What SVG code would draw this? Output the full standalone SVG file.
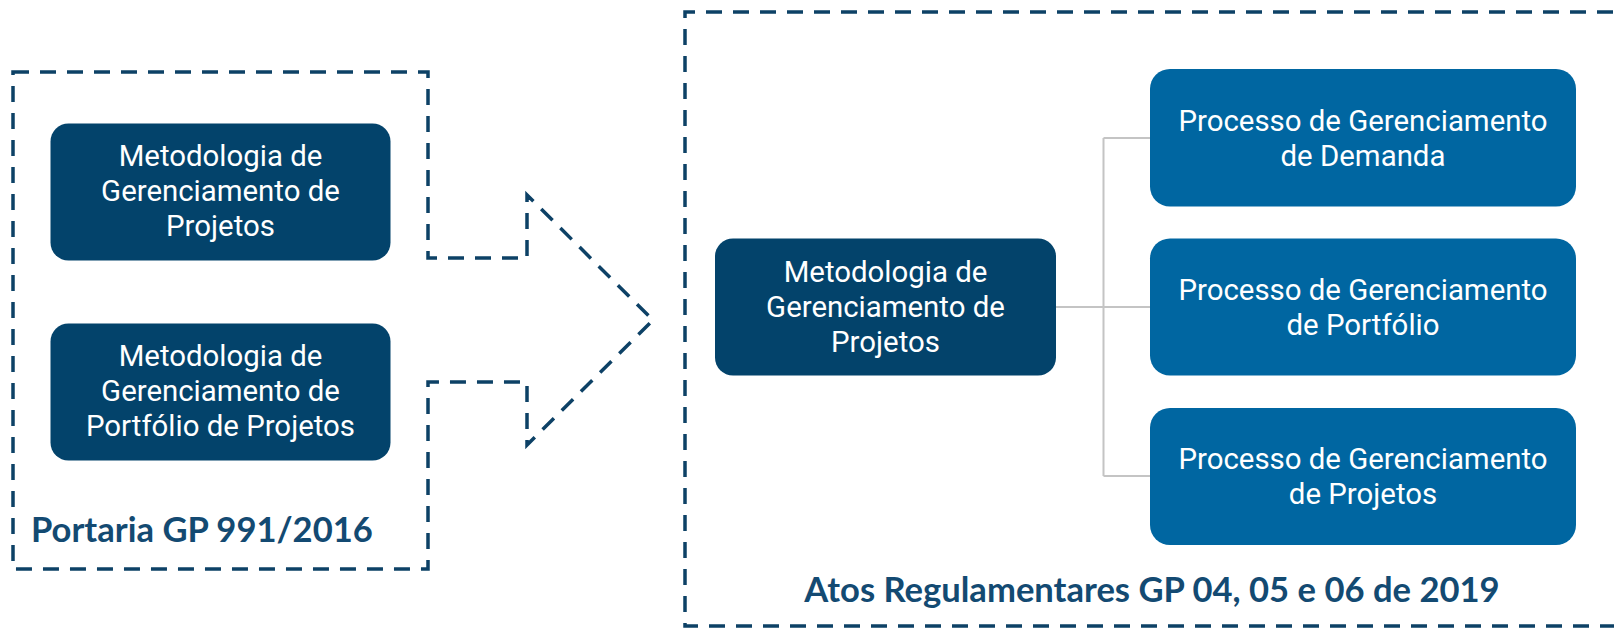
<svg xmlns="http://www.w3.org/2000/svg" width="1614" height="629" viewBox="0 0 1614 629">
<style>
.frame{fill:none;stroke:#0d4166;stroke-width:3.5;stroke-dasharray:16 11}
.dark{fill:#03436B}
.light{fill:#0066A1}
.t{font-family:Roboto,"Liberation Sans",sans-serif;font-size:29.4px;fill:#ffffff;text-anchor:middle}
.lbl{font-family:Lato,"Liberation Sans",sans-serif;font-weight:bold;font-size:34.6px;fill:#134A72}
.conn{fill:none;stroke:#c4c4c4;stroke-width:2}
</style>
<g id="portaria-frame">
<path class="frame" d="M13,72 H428 V258 H527 V195 L653,320 L527,445 V382 H428 V569 H13 Z"/>
<text class="lbl" x="31" y="542">Portaria GP 991/2016</text>
</g>
<g id="atos-frame">
<path class="frame" d="M1640,12 H685 V626 H1640"/>
<text class="lbl" x="1152" y="602" text-anchor="middle">Atos Regulamentares GP 04, 05 e 06 de 2019</text>
</g>
<g id="connectors">
<path class="conn" d="M1055,307 H1150 M1103.5,138 V476 M1103.5,138 H1150 M1103.5,476 H1150"/>
</g>
<g id="mgp-left">
<rect class="dark" x="50.5" y="123.5" width="340" height="137" rx="18"/>
<text class="t" x="220.5" y="166">Metodologia de</text>
<text class="t" x="220.5" y="201">Gerenciamento de</text>
<text class="t" x="220.5" y="236">Projetos</text>
</g>
<g id="mgpp-left">
<rect class="dark" x="50.5" y="323.5" width="340" height="137" rx="18"/>
<text class="t" x="220.5" y="366">Metodologia de</text>
<text class="t" x="220.5" y="401">Gerenciamento de</text>
<text class="t" x="220.5" y="436">Portfólio de Projetos</text>
</g>
<g id="mgp-center">
<rect class="dark" x="715" y="238.5" width="341" height="137" rx="18"/>
<text class="t" x="885.5" y="281.5">Metodologia de</text>
<text class="t" x="885.5" y="316.5">Gerenciamento de</text>
<text class="t" x="885.5" y="351.5">Projetos</text>
</g>
<g id="proc-demanda">
<rect class="light" x="1150" y="69" width="426" height="137.5" rx="20"/>
<text class="t" x="1363" y="130.5">Processo de Gerenciamento</text>
<text class="t" x="1363" y="165.5">de Demanda</text>
</g>
<g id="proc-portfolio">
<rect class="light" x="1150" y="238.5" width="426" height="137" rx="20"/>
<text class="t" x="1363" y="299.5">Processo de Gerenciamento</text>
<text class="t" x="1363" y="334.5">de Portfólio</text>
</g>
<g id="proc-projetos">
<rect class="light" x="1150" y="408" width="426" height="137" rx="20"/>
<text class="t" x="1363" y="469">Processo de Gerenciamento</text>
<text class="t" x="1363" y="504">de Projetos</text>
</g>
</svg>
